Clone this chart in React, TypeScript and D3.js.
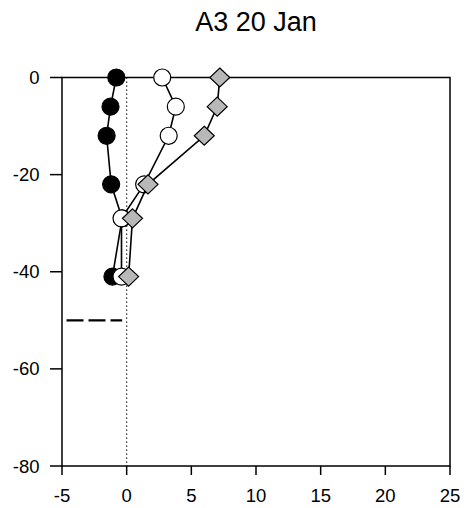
import React from "react";
import * as d3 from "d3";

const depths = [0, -6, -12, -22, -29, -41];
const seriesBlack = [-0.8, -1.25, -1.55, -1.2, -0.35, -1.1];
const seriesWhite = [2.75, 3.8, 3.25, 1.35, -0.4, -0.4];
const seriesGray = [7.2, 7.0, 6.0, 1.65, 0.45, 0.15];
const xTicks = [-5, 0, 5, 10, 15, 20, 25];
const yTicks = [0, -20, -40, -60, -80];
const mldDepth = -50;
const mldRange = [-4.65, -0.35];
const title = "A3 20 Jan";

const W = 464;
const H = 508;
const left = 62;
const right = 450;
const top = 77.5;
const bottom = 466;

export default function App() {
  const x = d3.scaleLinear().domain([-5, 25]).range([left, right]);
  const y = d3.scaleLinear().domain([0, -80]).range([top, bottom]);
  const line = d3
    .line<[number, number]>()
    .x((d) => x(d[0]))
    .y((d) => y(d[1]));

  const series = [
    { vals: seriesBlack, fill: "#000000", shape: "circle" },
    { vals: seriesWhite, fill: "#ffffff", shape: "circle" },
    { vals: seriesGray, fill: "#b8b8b8", shape: "diamond" },
  ];

  const font = "Arial, 'Liberation Sans', sans-serif";

  return (
    <svg
      width={W}
      height={H}
      style={{ position: "fixed", left: 0, top: 0, background: "#fff" }}
    >
      <defs>
        <filter id="blur" x="-20%" y="-200%" width="140%" height="500%">
          <feGaussianBlur stdDeviation="2" />
        </filter>
      </defs>
      <text
        x={(left + right) / 2}
        y={31}
        textAnchor="middle"
        fontFamily={font}
        fontSize={27}
        fill="#000"
      >
        {title}
      </text>

      {/* dotted zero line */}
      <line
        x1={x(0)}
        x2={x(0)}
        y1={top}
        y2={bottom}
        stroke="#000"
        strokeWidth={1.2}
        strokeDasharray="1.2,2.8"
      />

      {/* box */}
      <rect
        x={left}
        y={top}
        width={right - left}
        height={bottom - top}
        fill="none"
        stroke="#000"
        strokeWidth={1.5}
      />

      {/* y ticks */}
      {yTicks.map((t) => (
        <g key={"y" + t}>
          <line x1={left - 12} x2={left} y1={y(t)} y2={y(t)} stroke="#000" strokeWidth={1.5} />
          <text
            x={left - 22.5}
            y={y(t) + 6.5}
            textAnchor="end"
            fontFamily={font}
            fontSize={18.5}
            fill="#000"
          >
            {t}
          </text>
        </g>
      ))}

      {/* x ticks */}
      {xTicks.map((t) => (
        <g key={"x" + t}>
          <line x1={x(t)} x2={x(t)} y1={bottom} y2={bottom + 9} stroke="#000" strokeWidth={1.5} />
          <text
            x={x(t)}
            y={502}
            textAnchor="middle"
            fontFamily={font}
            fontSize={18.5}
            fill="#000"
          >
            {t}
          </text>
        </g>
      ))}

      {/* mixed layer depth dashed line with shadow */}
      <line
        x1={x(mldRange[0])}
        x2={x(mldRange[1])}
        y1={y(mldDepth) + 7}
        y2={y(mldDepth) + 7}
        stroke="#bbbbbb"
        strokeWidth={5}
        strokeDasharray="17,5"
        filter="url(#blur)"
      />
      <line
        x1={x(mldRange[0])}
        x2={x(mldRange[1])}
        y1={y(mldDepth)}
        y2={y(mldDepth)}
        stroke="#000"
        strokeWidth={2.2}
        strokeDasharray="17,5"
      />

      {series.map((s, si) => {
        const pts: [number, number][] = s.vals.map((v, i) => [v, depths[i]]);
        return (
          <g key={si}>
            <path d={line(pts) || ""} fill="none" stroke="#000" strokeWidth={1.6} />
            {pts.map((p, i) =>
              s.shape === "circle" ? (
                <circle
                  key={i}
                  cx={x(p[0])}
                  cy={y(p[1])}
                  r={8.5}
                  fill={s.fill}
                  stroke="#000"
                  strokeWidth={1.2}
                />
              ) : (
                <path
                  key={i}
                  d={`M${x(p[0])},${y(p[1]) - 9.5} L${x(p[0]) + 10},${y(p[1])} L${x(p[0])},${
                    y(p[1]) + 9.5
                  } L${x(p[0]) - 10},${y(p[1])} Z`}
                  fill={s.fill}
                  stroke="#000"
                  strokeWidth={1.2}
                />
              )
            )}
          </g>
        );
      })}
    </svg>
  );
}
